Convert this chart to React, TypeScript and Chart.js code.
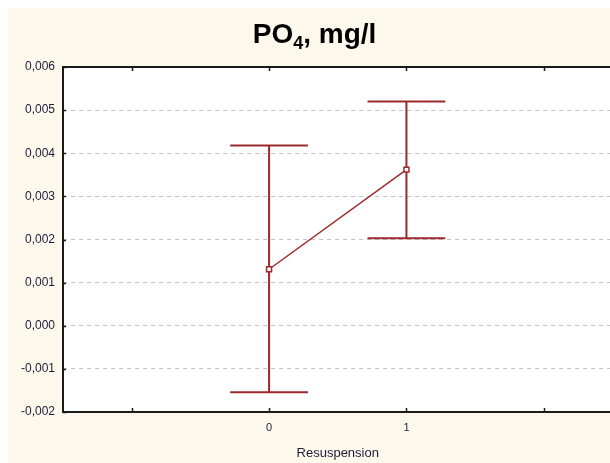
import React, { useEffect, useRef } from "react";
import { Chart, registerables } from "chart.js";

Chart.register(...registerables);

const categories = [0, 1];
const means = [0.00131, 0.00362];
const upper = [0.00418, 0.0052];
const lower = [-0.00154, 0.00203];
const yTicks = [-0.002, -0.001, 0, 0.001, 0.002, 0.003, 0.004, 0.005, 0.006];
const xTicks = [-1, 0, 1, 2];
const xLabelled = [0, 1];
const capHalf = 0.283;

const RED = "#9c2a2c";

const bgPlugin = {
  id: "bg",
  beforeDraw(chart: any) {
    const { ctx, chartArea: a } = chart;
    ctx.save();
    ctx.fillStyle = "#fdf8ec";
    ctx.fillRect(0, 0, chart.width, chart.height);
    ctx.fillStyle = "#ffffff";
    ctx.fillRect(a.left, a.top, a.right - a.left, a.bottom - a.top);
    ctx.restore();
  },
};

const titlePlugin = {
  id: "subTitle",
  afterDraw(chart: any) {
    const { ctx } = chart;
    const parts = [
      { t: "PO", f: "bold 28px 'Liberation Sans', Arial, sans-serif", dy: 0 },
      { t: "4", f: "bold 18px 'Liberation Sans', Arial, sans-serif", dy: 6 },
      { t: ", mg/l", f: "bold 28px 'Liberation Sans', Arial, sans-serif", dy: 0 },
    ];
    ctx.save();
    let total = 0;
    for (const p of parts) {
      ctx.font = p.f;
      total += ctx.measureText(p.t).width;
    }
    let x = 306.5 - total / 2;
    const base = 35;
    ctx.fillStyle = "#000000";
    ctx.textBaseline = "alphabetic";
    ctx.textAlign = "left";
    for (const p of parts) {
      ctx.font = p.f;
      ctx.fillText(p.t, x, base + p.dy);
      x += ctx.measureText(p.t).width;
    }
    ctx.restore();
  },
};

const errorPlugin = {
  id: "errBars",
  beforeDatasetsDraw(chart: any) {
    const { ctx } = chart;
    const xs = chart.scales.x;
    const ys = chart.scales.y;
    ctx.save();
    ctx.strokeStyle = RED;
    ctx.lineWidth = 2;
    categories.forEach((c, i) => {
      const x = xs.getPixelForValue(c);
      const yh = ys.getPixelForValue(upper[i]);
      const yl = ys.getPixelForValue(lower[i]);
      const xl = xs.getPixelForValue(c - capHalf);
      const xr = xs.getPixelForValue(c + capHalf);
      ctx.beginPath();
      ctx.moveTo(x, yh);
      ctx.lineTo(x, yl);
      ctx.moveTo(xl, yh);
      ctx.lineTo(xr, yh);
      ctx.moveTo(xl, yl);
      ctx.lineTo(xr, yl);
      ctx.stroke();
    });
    ctx.restore();
  },
};

const framePlugin = {
  id: "frame",
  afterDraw(chart: any) {
    const { ctx, chartArea: a } = chart;
    const xs = chart.scales.x;
    const ys = chart.scales.y;
    ctx.save();
    ctx.strokeStyle = "#1a1a1a";
    ctx.lineWidth = 2;
    ctx.beginPath();
    ctx.moveTo(a.right + 10, a.top);
    ctx.lineTo(a.left, a.top);
    ctx.lineTo(a.left, a.bottom);
    ctx.lineTo(a.right + 10, a.bottom);
    ctx.stroke();
    ctx.lineWidth = 1.5;
    ctx.beginPath();
    xTicks.forEach((v) => {
      const x = Math.round(xs.getPixelForValue(v)) + 0.5;
      ctx.moveTo(x, a.bottom);
      ctx.lineTo(x, a.bottom - 4);
      ctx.moveTo(x, a.top);
      ctx.lineTo(x, a.top + 4);
    });
    yTicks.forEach((v) => {
      const y = Math.round(ys.getPixelForValue(v)) + 0.5;
      ctx.moveTo(a.left, y);
      ctx.lineTo(a.left + 3, y);
    });
    ctx.stroke();
    ctx.restore();
  },
};

export default function App() {
  const ref = useRef<HTMLCanvasElement | null>(null);
  useEffect(() => {
    if (!ref.current) return;
    const yMin = yTicks[0];
    const yMax = yTicks[yTicks.length - 1];
    const chart = new Chart(ref.current, {
      type: "line",
      data: {
        datasets: [
          {
            data: categories.map((c, i) => ({ x: c, y: means[i] })),
            borderColor: RED,
            borderWidth: 1.5,
            pointStyle: "rect",
            pointRadius: 3.5,
            pointBorderWidth: 1.5,
            pointBackgroundColor: "#ffffff",
            pointBorderColor: RED,
            tension: 0,
          },
        ],
      },
      options: {
        responsive: false,
        animation: false,
        events: [],
        layout: { padding: { top: 59, right: 4, left: 0, bottom: 0 } },
        plugins: {
          legend: { display: false },
          title: { display: false },
          tooltip: { enabled: false },
        },
        scales: {
          x: {
            type: "linear",
            min: -1.5,
            max: 2.5,
            afterBuildTicks: (s: any) => {
              s.ticks = xTicks.map((v) => ({ value: v }));
            },
            afterFit: (s: any) => {
              s.height = 51;
            },
            ticks: {
              autoSkip: false,
              maxRotation: 0,
              padding: 9,
              color: "#1c1c3a",
              font: { family: "'Liberation Sans', Arial, sans-serif", size: 11 },
              callback: (v: any) => (xLabelled.includes(Number(v)) ? String(v) : ""),
            },
            grid: { display: false, drawTicks: false },
            border: { display: false },
            title: {
              display: true,
              text: "Resuspension",
              color: "#1c1c3a",
              padding: { top: 0, bottom: 2 },
              font: { family: "'Liberation Sans', Arial, sans-serif", size: 13 },
            },
          },
          y: {
            type: "linear",
            min: yMin,
            max: yMax,
            afterBuildTicks: (s: any) => {
              s.ticks = yTicks.map((v) => ({ value: v }));
            },
            afterFit: (s: any) => {
              s.width = 55;
            },
            ticks: {
              autoSkip: false,
              padding: 8,
              color: "#1c1c3a",
              font: { family: "'Liberation Sans', Arial, sans-serif", size: 12 },
              callback: (v: any) => Number(v).toFixed(3).replace(".", ","),
            },
            grid: {
              drawTicks: false,
              color: (c: any) =>
                c.tick && (c.tick.value === yMin || c.tick.value === yMax)
                  ? "rgba(0,0,0,0)"
                  : "#c4c4c4",
              lineWidth: 1,
            },
            border: { display: false, dash: [4, 4] },
          },
        },
      },
      plugins: [bgPlugin, errorPlugin, framePlugin, titlePlugin],
    });
    return () => chart.destroy();
  }, []);
  return (
    <div
      style={{
        position: "absolute",
        left: 8,
        top: 8,
        width: 602,
        height: 455,
        overflow: "hidden",
        background: "#fdf8ec",
      }}
    >
      <canvas ref={ref} width={610} height={455} style={{ display: "block" }} />
    </div>
  );
}
